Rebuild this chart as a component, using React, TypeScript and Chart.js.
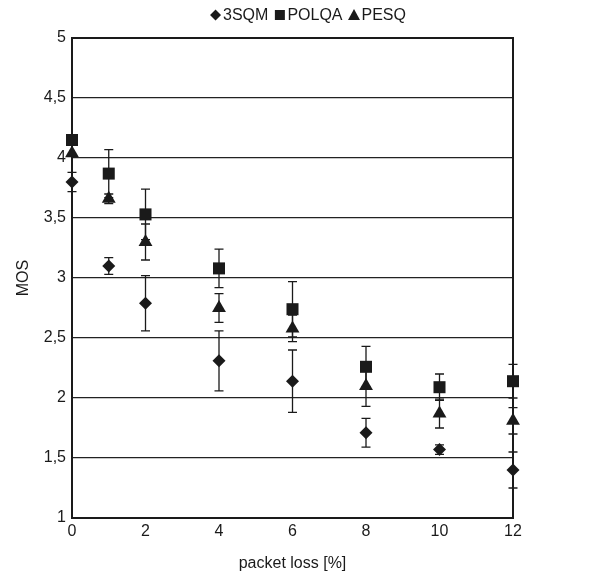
import React, { useEffect, useRef } from "react";
import { Chart, registerables } from "chart.js";

Chart.register(...registerables);

const packetLoss = [0, 1, 2, 4, 6, 8, 10, 12];

const sqm3 = [3.8, 3.1, 2.79, 2.31, 2.14, 1.71, 1.57, 1.4];
const sqm3Err = [0.08, 0.07, 0.23, 0.25, 0.26, 0.12, 0.04, 0.15];

const polqa = [4.15, 3.87, 3.53, 3.08, 2.74, 2.26, 2.09, 2.14];
const polqaErr = [0, 0.2, 0.21, 0.16, 0.23, 0.17, 0.11, 0.14];

const pesq = [4.04, 3.66, 3.3, 2.75, 2.58, 2.1, 1.87, 1.81];
const pesqErr = [0, 0.04, 0.15, 0.12, 0.11, 0.17, 0.12, 0.11];

const seriesNames = ["3SQM", "POLQA", "PESQ"];
const seriesStyles = ["rectRot", "rect", "triangle"];

const FONT = "'Liberation Sans', Arial, Helvetica, sans-serif";
const INK = "#1a1a1a";

const errorBarPlugin = {
  id: "errorBars",
  beforeDatasetsDraw(chart: any) {
    const { ctx, scales } = chart;
    const xs = scales.x;
    const ys = scales.y;
    ctx.save();
    ctx.strokeStyle = INK;
    ctx.lineWidth = 1.3;
    chart.data.datasets.forEach((ds: any) => {
      const errs: number[] = ds.errors || [];
      ds.data.forEach((pt: any, i: number) => {
        const e = errs[i];
        if (!e) return;
        const px = xs.getPixelForValue(pt.x);
        const yTop = ys.getPixelForValue(pt.y + e);
        const yBot = ys.getPixelForValue(pt.y - e);
        ctx.beginPath();
        ctx.moveTo(px, yTop);
        ctx.lineTo(px, yBot);
        ctx.moveTo(px - 4.5, yTop);
        ctx.lineTo(px + 4.5, yTop);
        ctx.moveTo(px - 4.5, yBot);
        ctx.lineTo(px + 4.5, yBot);
        ctx.stroke();
      });
    });
    ctx.restore();
  },
  afterDraw(chart: any) {
    const { ctx, chartArea } = chart;
    ctx.save();
    ctx.strokeStyle = INK;
    ctx.lineWidth = 2;
    ctx.strokeRect(chartArea.left, chartArea.top, chartArea.right - chartArea.left, chartArea.bottom - chartArea.top);

    ctx.font = `16px ${FONT}`;
    ctx.fillStyle = INK;
    ctx.textBaseline = "middle";
    const markerW = 13;
    const gap = 6;
    const widths = seriesNames.map((n) => ctx.measureText(n).width);
    const total = widths.reduce((a, b) => a + b, 0) + seriesNames.length * markerW + gap * (seriesNames.length - 1);
    let x = 308 - total / 2;
    const y = 15;
    seriesNames.forEach((name, i) => {
      const cx = x + markerW / 2 - 1;
      ctx.beginPath();
      if (seriesStyles[i] === "rectRot") {
        ctx.moveTo(cx - 5.5, y);
        ctx.lineTo(cx, y - 5.5);
        ctx.lineTo(cx + 5.5, y);
        ctx.lineTo(cx, y + 5.5);
      } else if (seriesStyles[i] === "rect") {
        ctx.rect(cx - 5, y - 5, 10, 10);
      } else {
        ctx.moveTo(cx, y - 6);
        ctx.lineTo(cx + 6, y + 5);
        ctx.lineTo(cx - 6, y + 5);
      }
      ctx.closePath();
      ctx.fill();
      ctx.textAlign = "left";
      ctx.fillText(name, x + markerW, y + 1);
      x += markerW + widths[i] + gap;
    });
    ctx.restore();
  },
};

export default function App() {
  const canvasRef = useRef<HTMLCanvasElement | null>(null);

  useEffect(() => {
    const canvas = canvasRef.current;
    if (!canvas) return;
    const mk = (vals: number[]) => packetLoss.map((x, i) => ({ x, y: vals[i] }));
    const common = {
      backgroundColor: INK,
      borderColor: INK,
      borderWidth: 0,
      clip: false,
    };
    const chart = new Chart(canvas, {
      type: "scatter",
      data: {
        datasets: [
          { label: seriesNames[0], data: mk(sqm3), errors: sqm3Err, pointStyle: "rectRot", pointRadius: 6.5, ...common } as any,
          { label: seriesNames[1], data: mk(polqa), errors: polqaErr, pointStyle: "rect", pointRadius: 8.5, ...common } as any,
          { label: seriesNames[2], data: mk(pesq), errors: pesqErr, pointStyle: "triangle", pointRadius: 8, ...common } as any,
        ],
      },
      options: {
        animation: false,
        responsive: false,
        maintainAspectRatio: false,
        layout: { padding: { left: 0, right: 85, top: 38, bottom: 0 } },
        plugins: {
          legend: { display: false },
          tooltip: { enabled: false },
        },
        scales: {
          x: {
            type: "linear",
            min: 0,
            max: 12,
            afterFit: (s: any) => {
              s.height = 57;
            },
            ticks: {
              stepSize: 2,
              padding: 4,
              color: INK,
              font: { family: FONT, size: 16 },
            },
            grid: { display: false, drawTicks: false },
            border: { display: true, color: INK, width: 2 },
            title: {
              display: true,
              text: "packet loss [%]",
              color: INK,
              font: { family: FONT, size: 16 },
              padding: { top: 0, bottom: 2 },
            },
          },
          y: {
            min: 1,
            max: 5,
            afterFit: (s: any) => {
              s.width = 72;
            },
            ticks: {
              stepSize: 0.5,
              padding: 6,
              color: INK,
              font: { family: FONT, size: 16 },
              callback: (v: any) => String(v).replace(".", ","),
            },
            grid: { color: "#222", lineWidth: 1.3, drawTicks: false },
            border: { display: true, color: INK, width: 2 },
            title: {
              display: true,
              text: "MOS",
              color: INK,
              font: { family: FONT, size: 16 },
              padding: { top: 14, bottom: 0 },
            },
          },
        },
      } as any,
      plugins: [errorBarPlugin],
    });
    return () => chart.destroy();
  }, []);

  return (
    <div style={{ position: "absolute", left: 0, top: 0, width: 598, height: 575, background: "#fff" }}>
      <canvas ref={canvasRef} width={598} height={575} style={{ width: 598, height: 575, display: "block" }} />
    </div>
  );
}
